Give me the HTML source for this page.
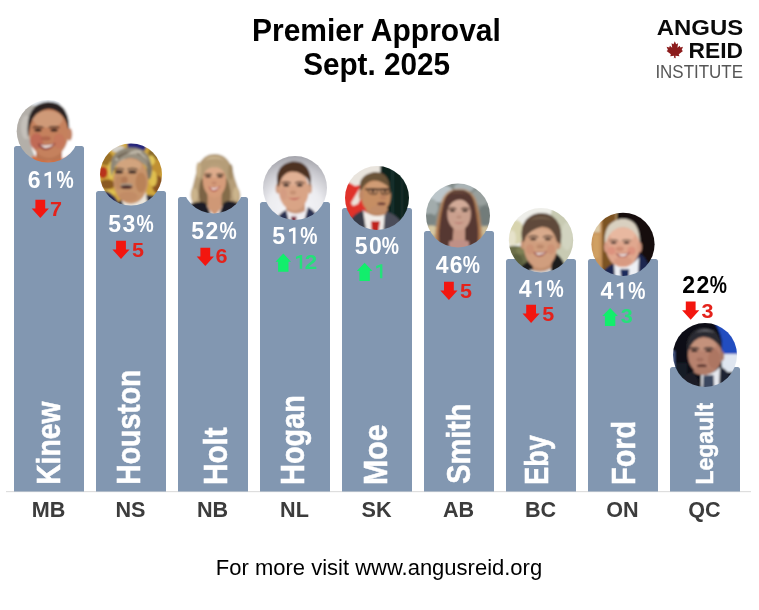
<!DOCTYPE html>
<html><head><meta charset="utf-8"><title>Premier Approval</title>
<style>
html,body{margin:0;padding:0;background:#fff;}
body{width:759px;height:610px;overflow:hidden;font-family:"Liberation Sans",sans-serif;}
svg{display:block;will-change:transform;}
text{font-family:"Liberation Sans",sans-serif;}
.b{font-weight:bold;}
</style></head><body>
<svg width="759" height="610" viewBox="0 0 759 610">
<defs>
<filter id="bl" x="-10%" y="-10%" width="120%" height="120%"><feGaussianBlur stdDeviation="0.9"/></filter>
<filter id="bl2" x="-10%" y="-10%" width="120%" height="120%"><feGaussianBlur stdDeviation="2.2"/></filter>
<clipPath id="c0"><circle cx="0" cy="0" r="31.3"/></clipPath>
<clipPath id="c1"><circle cx="0" cy="0" r="31"/></clipPath>
<clipPath id="c2"><circle cx="0" cy="0" r="31.5"/></clipPath>
<clipPath id="c3"><circle cx="0" cy="0" r="32"/></clipPath>
<clipPath id="c4"><circle cx="0" cy="0" r="32"/></clipPath>
<clipPath id="c5"><circle cx="0" cy="0" r="32"/></clipPath>
<clipPath id="c6"><circle cx="0" cy="0" r="32.2"/></clipPath>
<clipPath id="c7"><circle cx="0" cy="0" r="31.6"/></clipPath>
<clipPath id="c8"><circle cx="0" cy="0" r="32"/></clipPath>
<radialGradient id="gHogan" cx="0" cy="22" r="60" gradientUnits="userSpaceOnUse">
<stop offset="0" stop-color="#f8f8fa"/><stop offset="0.45" stop-color="#ececf0"/><stop offset="0.72" stop-color="#c6c6cc"/><stop offset="0.9" stop-color="#a4a4ab"/><stop offset="1" stop-color="#98989f"/></radialGradient>
</defs>
<rect width="759" height="610" fill="#ffffff"/>
<text class="b" transform="translate(376.4,40.6) scale(0.9615,1)" font-size="31.2" text-anchor="middle" fill="#000">Premier Approval</text>
<text class="b" transform="translate(376.6,75) scale(0.952,1)" font-size="31.2" text-anchor="middle" fill="#000">Sept. 2025</text>
<g id="logo"><text class="b" x="656.8" y="34.5" font-size="22.9" textLength="86.4" lengthAdjust="spacingAndGlyphs" fill="#0a0a0a">ANGUS</text><text class="b" x="688.6" y="57.5" font-size="22.8" textLength="54.4" lengthAdjust="spacingAndGlyphs" fill="#0a0a0a">REID</text><text x="655.4" y="77.6" font-size="18" textLength="87.6" lengthAdjust="spacingAndGlyphs" fill="#565656">INSTITUTE</text><path transform="translate(666.6,41.2) scale(0.164)" fill="#8c1c1c" d="M50 0 L58 18 L70 12 L66 40 L80 28 L84 38 L100 34 L92 54 L100 60 L74 80 L78 92 L54 88 L56 106 L50 100 L44 106 L46 88 L22 92 L26 80 L0 60 L8 54 L0 34 L16 38 L20 28 L34 40 L30 12 L42 18 Z"/></g>
<rect x="6" y="491" width="745" height="1.2" fill="#dedede"/>
<path d="M14,491.5 V148.5 Q14,146 16.5,146 H81.5 Q84,146 84,148.5 V491.5 Z" fill="#8297b1"/>
<g transform="translate(48,131.3)" clip-path="url(#c0)"><g filter="url(#bl)"><rect x="-34" y="-34" width="68" height="68" fill="#ffffff" /><path d="M-34,-34 H-6 Q-16,-20 -19,0 Q-18,22 -6,34 H-34 Z" fill="#b3afa9" /><ellipse cx="-22" cy="-4" rx="5" ry="12" fill="#c4c0ba" /><path d="M-22,-34 H12 V-26 H-22 Z" fill="#e6ebf1" /><path d="M-14,24 Q2,40 24,22 L28,36 H-18 Z" fill="#d8703e" /><path d="M-20,6 Q-23.5,-28 0,-29.5 Q20,-29.5 21.2,-5 L20.5,1 L17,-10 Q2,-25 -15,-13 Z" fill="#2a2422" /><ellipse cx="21.6" cy="3" rx="2.7" ry="6.4" fill="#c28262" /><path d="M-12,18 H14 V30 H-12 Z" fill="#b87452" /><path d="M-16,25 Q2,36 24,23 L28,36 H-18 Z" fill="#d8703e" /><ellipse cx="0.8" cy="2.2" rx="19.7" ry="24.4" fill="#c5815d" /><ellipse cx="0" cy="-12" rx="14.5" ry="8.5" fill="#cf9a78" /><ellipse cx="-11.5" cy="10" rx="6.5" ry="8" fill="#c06a56" /><ellipse cx="11" cy="10" rx="6" ry="7.5" fill="#c6785c" /><path d="M-19.2,-6 Q-16,-26.2 1,-26.8 Q18,-26.2 20.2,-6 Q12,-23.6 1,-22.9 Q-10,-23.6 -19.2,-6 Z" fill="#2a2422" /><ellipse cx="-10" cy="-1.4" rx="3.7" ry="1.5" fill="#241814" /><ellipse cx="6.1" cy="-1.4" rx="3.7" ry="1.5" fill="#241814" /><path d="M-15.4,-4.2 Q-10,-6.6 -4.6,-4.2 L-4.6,-3.0 Q-10,-5.2 -15.4,-3.0 Z" fill="#241814" /><path d="M0.6999999999999993,-4.2 Q6.1,-6.6 11.5,-4.2 L11.5,-3.0 Q6.1,-5.2 0.6999999999999993,-3.0 Z" fill="#241814" /><ellipse cx="-2.2" cy="7.2" rx="5" ry="2.2" fill="#b0664e" /><path d="M-10.399999999999999,12.2 Q-1.2,14.729999999999999 7.999999999999999,11.6 Q2.9399999999999995,19.099999999999998 -3.96,18.41 Q-8.559999999999999,16.799999999999997 -10.399999999999999,12.2 Z" fill="#8a3836" /><path d="M-8.376,13.1 Q-1.2,15.052 6.159999999999999,12.6 Q1.5599999999999998,17.03 -3.96,16.57 Z" fill="#efe4de" /></g></g>
<text x="27.70" y="188.0" font-size="23.0" class="b" fill="#fff">6</text><polygon points="51.00,188.00 48.40,188.00 48.40,174.96 44.50,176.51 44.50,173.82 49.18,171.70 51.00,171.70" fill="#fff"/><text transform="translate(56.46,188.0) scale(0.8412,1)" font-size="23.0" class="b" fill="#fff">%</text>
<polygon points="35.4,199.7 45.2,199.7 45.2,208.5 48.9,208.5 40.3,217.9 31.7,208.5 35.4,208.5" fill="#f3160f"/>
<text class="b" x="50.1" y="215.9" font-size="20.4" textLength="12.0" lengthAdjust="spacingAndGlyphs" fill="#e4221b">7</text>
<text class="b" transform="translate(59.6,484.84) rotate(-90) scale(0.8578,1)" font-size="33" fill="#fff" stroke="#fff" stroke-width="0.55">Kinew</text>
<text class="b" x="48.5" y="517" font-size="21.6" text-anchor="middle" fill="#3c3c3c">MB</text>
<path d="M96,491.5 V193.5 Q96,191 98.5,191 H163.5 Q166,191 166,193.5 V491.5 Z" fill="#8297b1"/>
<g transform="translate(131,174.5)" clip-path="url(#c1)"><g filter="url(#bl)"><rect x="-34" y="-34" width="68" height="68" fill="#d2a83c" /><ellipse cx="-28" cy="-2" rx="4.5" ry="6" fill="#b8321f" /><ellipse cx="-24" cy="10" rx="8" ry="5" fill="#8a5a22" /><ellipse cx="-22" cy="18" rx="7" ry="3" fill="#e0c050" /><ellipse cx="-25" cy="-16" rx="7" ry="7" fill="#9a7028" /><ellipse cx="-20" cy="-4" rx="3" ry="9" fill="#e2c456" /><ellipse cx="25" cy="-8" rx="7" ry="10" fill="#c09030" /><ellipse cx="27" cy="10" rx="6" ry="9" fill="#8a5424" /><ellipse cx="22" cy="4" rx="4" ry="8" fill="#e0c050" /><ellipse cx="24" cy="-21" rx="7" ry="6" fill="#8a6a2a" /><ellipse cx="20" cy="-14" rx="4" ry="5" fill="#e4c858" /><path d="M-4.3,-34 H17 L14,-24 H-3 Z" fill="#28287c" /><path d="M-26,16 Q-14,20 -9,36 H-30 Z" fill="#1c2250" /><ellipse cx="-13" cy="-25.5" rx="7" ry="3.5" fill="#d4d0c8" /><path d="M13,20 L28,22 V36 H6 Z" fill="#2a2c3a" /><path d="M-9,25 Q2,33 15,17 L17,36 H-10 Z" fill="#ece6dc" /><path d="M-10,25 L-5,36 H-20 Z" fill="#2a2c3a" /><path d="M-19.5,2 Q-25,-24 -2,-27 Q20,-28 21,-4 L19.5,4 L17,-8 Q0,-19 -16,-8 Z" fill="#8e8676" /><path d="M-16,-15 Q-4,-27.5 12,-23 Q0,-22.5 -10,-12 Z" fill="#d2ccbe" /><path d="M2,-24 Q12,-24 17,-14 Q10,-20 2,-21 Z" fill="#bcb4a4" /><ellipse cx="18" cy="-4" rx="2.6" ry="9" fill="#7c7464" /><path d="M-14,-18 Q-6,-24 4,-24 Q-6,-21 -13,-14 Z" fill="#6e6252" /><path d="M6,-22 Q14,-18 16,-8 Q12,-16 6,-19 Z" fill="#6e6252" /><ellipse cx="-0.2" cy="6.2" rx="17.3" ry="23" fill="#c8946c" /><ellipse cx="-2" cy="-9" rx="12.5" ry="6.5" fill="#d2a47e" /><ellipse cx="10" cy="8" rx="5.5" ry="10" fill="#b98258" /><ellipse cx="-12" cy="8" rx="4" ry="7" fill="#be8a62" /><path d="M-17.5,-5 Q-15,-19.5 0,-21 Q15,-21 17.2,-5 Q9,-17.5 -1,-16.5 Q-11,-17.5 -17.5,-5 Z" fill="#9a9282" /><ellipse cx="-12" cy="-2.6" rx="4.2" ry="1.7" fill="#2e2220" /><ellipse cx="1.4" cy="-2.6" rx="4.2" ry="1.7" fill="#2e2220" /><path d="M-17.4,-5.6000000000000005 Q-12,-8.0 -6.6,-5.6000000000000005 L-6.6,-4.4 Q-12,-6.6000000000000005 -17.4,-4.4 Z" fill="#4a382e" /><path d="M-4.0,-5.6000000000000005 Q1.4,-8.0 6.800000000000001,-5.6000000000000005 L6.800000000000001,-4.4 Q1.4,-6.6000000000000005 -4.0,-4.4 Z" fill="#4a382e" /><ellipse cx="-6.6" cy="5.5" rx="3.4" ry="3.4" fill="#b27a56" /><ellipse cx="-4.5" cy="10.4" rx="6.5" ry="1.6" fill="#a89684" /><ellipse cx="-4.5" cy="12.6" rx="6" ry="1.9" fill="#4e2c28" /><ellipse cx="-3" cy="22" rx="9.5" ry="5" fill="#c28c66" /></g></g>
<text x="108.31" y="231.7" font-size="23.0" class="b" fill="#fff">5</text><text x="122.46" y="231.7" font-size="23.0" class="b" fill="#fff">3</text><text transform="translate(136.56,231.7) scale(0.8412,1)" font-size="23.0" class="b" fill="#fff">%</text>
<polygon points="116.1,240.7 125.9,240.7 125.9,249.5 129.6,249.5 121.0,258.9 112.4,249.5 116.1,249.5" fill="#f3160f"/>
<text class="b" x="132.1" y="257.0" font-size="20.4" textLength="12.0" lengthAdjust="spacingAndGlyphs" fill="#e4221b">5</text>
<text class="b" transform="translate(140.4,484.85) rotate(-90) scale(0.8621,1)" font-size="33" fill="#fff" stroke="#fff" stroke-width="0.55">Houston</text>
<text class="b" x="130.5" y="517" font-size="21.6" text-anchor="middle" fill="#3c3c3c">NS</text>
<path d="M178,491.5 V199.5 Q178,197 180.5,197 H245.5 Q248,197 248,199.5 V491.5 Z" fill="#8297b1"/>
<g transform="translate(213.6,182)" clip-path="url(#c2)"><g filter="url(#bl)"><rect x="-34" y="-34" width="68" height="68" fill="#ffffff" /><path d="M1,-28 Q-10,-28.5 -15.5,-16 Q-18.5,-6 -21,5 Q-25,13 -21,21 Q-15,27 -6,24 H8 Q18,28 25,21 Q29,13 24,5 Q21,-3 18.5,-14 Q13,-28.5 1,-28 Z" fill="#b59d78" /><path d="M-12,-4 Q-17,8 -13,22 L-4,24 L-8,2 Z" fill="#7c6444" /><path d="M13,-4 Q19,8 16,22 L6,24 L10,2 Z" fill="#846c4a" /><path d="M-9,-22 Q0,-28.5 11,-22 Q2,-25 -9,-22 Z" fill="#d0bc98" /><ellipse cx="-19" cy="13" rx="3.2" ry="7" fill="#cbb48c" /><ellipse cx="22.5" cy="12" rx="3.2" ry="7" fill="#cbb48c" /><ellipse cx="-15" cy="-12" rx="2.5" ry="8" fill="#c8b088" /><ellipse cx="17" cy="-10" rx="2.5" ry="8" fill="#a48c66" /><path d="M-6,10 H8 V26 L1,34 L-6,26 Z" fill="#cf9876" /><path d="M-30,26 Q-16,17 -8,21 L0,38 H-34 Z" fill="#1d1d26" /><path d="M30,24 Q16,16 10,21 L3,38 H34 Z" fill="#1d1d26" /><ellipse cx="0.9" cy="-1.2" rx="11.6" ry="16.6" fill="#d69c7a" /><ellipse cx="0.7" cy="-10" rx="9.2" ry="5.5" fill="#deac8c" /><path d="M-10.5,-7 Q-7,-18.5 1.5,-18.5 Q10,-18.5 12.4,-7 Q7,-15.6 1,-14.6 Q-6,-15.6 -10.5,-7 Z" fill="#b9a07c" /><ellipse cx="-5.4" cy="-5.6" rx="2.8" ry="1.2" fill="#3e2e28" /><ellipse cx="6.4" cy="-5.6" rx="2.8" ry="1.2" fill="#3e2e28" /><path d="M-9.4,-7.700000000000001 Q-5.4,-10.100000000000001 -1.4000000000000004,-7.700000000000001 L-1.4000000000000004,-6.500000000000001 Q-5.4,-8.700000000000001 -9.4,-6.500000000000001 Z" fill="#6e563e" /><path d="M2.4000000000000004,-7.700000000000001 Q6.4,-10.100000000000001 10.4,-7.700000000000001 L10.4,-6.500000000000001 Q6.4,-8.700000000000001 2.4000000000000004,-6.500000000000001 Z" fill="#6e563e" /><ellipse cx="0.5" cy="1" rx="2.6" ry="1.5" fill="#c2866a" /><path d="M-5,4.4 Q1,6.49 7,3.8000000000000003 Q3.7,10.1 -0.7999999999999998,9.530000000000001 Q-3.8000000000000007,8.2 -5,4.4 Z" fill="#b05048" /><path d="M-3.6799999999999997,5.300000000000001 Q1,6.756 5.800000000000001,4.800000000000001 Q2.8,8.39 -0.7999999999999998,8.01 Z" fill="#f3e6e0" /></g></g>
<text x="191.31" y="238.9" font-size="23.0" class="b" fill="#fff">5</text><text x="205.46" y="238.9" font-size="23.0" class="b" fill="#fff">2</text><text transform="translate(219.56,238.9) scale(0.8412,1)" font-size="23.0" class="b" fill="#fff">%</text>
<polygon points="200.4,247.7 210.2,247.7 210.2,256.5 213.9,256.5 205.3,265.9 196.7,256.5 200.4,256.5" fill="#f3160f"/>
<text class="b" x="215.4" y="263.4" font-size="20.4" textLength="12.0" lengthAdjust="spacingAndGlyphs" fill="#e4221b">6</text>
<text class="b" transform="translate(226.6,484.93) rotate(-90) scale(0.8989,1)" font-size="33" fill="#fff" stroke="#fff" stroke-width="0.55">Holt</text>
<text class="b" x="212.5" y="517" font-size="21.6" text-anchor="middle" fill="#3c3c3c">NB</text>
<path d="M260,491.5 V204.5 Q260,202 262.5,202 H327.5 Q330,202 330,204.5 V491.5 Z" fill="#8297b1"/>
<g transform="translate(295,188)" clip-path="url(#c3)"><g filter="url(#bl)"><rect x="-34" y="-34" width="68" height="68" fill="url(#gHogan)" /><path d="M-20,36 Q-18,26 -9,22 L-2,36 Z" fill="#2b3152" /><path d="M24,36 Q23,24 13,19 L4,36 Z" fill="#2b3152" /><path d="M-9,21 Q0,31 13,19 L8,38 H-5 Z" fill="#f0eef2" /><path d="M-4,28.5 L1.5,28.5 L1,36 H-4 Z" fill="#7a2a3c" /><path d="M-9,14 H10 V23 Q0,29 -9,22 Z" fill="#c9977a" /><ellipse cx="-17" cy="0.5" rx="2.4" ry="5" fill="#cf9c80" /><ellipse cx="14.8" cy="0.5" rx="2.2" ry="5" fill="#d1a084" /><path d="M-17.5,-2 Q-21,-23 -3,-26.5 Q14,-27.5 16,-9 L15.2,-1 L13,-9 Q4,-18 -13,-12 L-15.5,-1 Z" fill="#4e3222" /><ellipse cx="-1.2" cy="2.2" rx="15" ry="20.2" fill="#d9a486" /><ellipse cx="-1" cy="-9" rx="11.5" ry="6.5" fill="#e0b094" /><path d="M-16,-5 Q-16,-20 -4,-22 Q10,-23 14.5,-7 Q6,-17.5 -4,-16.5 Q-11.5,-15.5 -16,-5 Z" fill="#4e3222" /><ellipse cx="-8.8" cy="-3" rx="3.0" ry="1.5" fill="#2e2220" /><ellipse cx="4.7" cy="-3" rx="3.0" ry="1.5" fill="#2e2220" /><path d="M-13.600000000000001,-5.5 Q-8.8,-7.8999999999999995 -4.000000000000001,-5.5 L-4.000000000000001,-4.3 Q-8.8,-6.5 -13.600000000000001,-4.3 Z" fill="#4a3024" /><path d="M-0.09999999999999964,-5.5 Q4.7,-7.8999999999999995 9.5,-5.5 L9.5,-4.3 Q4.7,-6.5 -0.09999999999999964,-4.3 Z" fill="#4a3024" /><ellipse cx="-2" cy="4.5" rx="3" ry="2" fill="#c48f72" /><path d="M-7.5,9.6 Q-2,11.8 5.5,9.2 Q-1,14 -7.5,9.6 Z" fill="#b8484a" /><ellipse cx="-11.5" cy="6" rx="3.5" ry="6" fill="#d49c82" /></g></g>
<text x="272.31" y="243.8" font-size="23.0" class="b" fill="#fff">5</text><polygon points="295.50,243.80 292.90,243.80 292.90,230.76 289.00,232.31 289.00,229.62 293.68,227.50 295.50,227.50" fill="#fff"/><text transform="translate(300.26,243.8) scale(0.8412,1)" font-size="23.0" class="b" fill="#fff">%</text>
<polygon points="283.3,253.5 291.1,261.7 288.5,261.7 288.5,271.7 278.1,271.7 278.1,261.7 275.5,261.7" fill="#12ee6c"/>
<polygon points="302.20,268.80 299.72,268.80 299.72,257.68 296.00,259.00 296.00,256.71 300.46,254.90 302.20,254.90" fill="#25e07a"/><text class="b" x="304.8" y="268.8" font-size="20.4" textLength="12.4" lengthAdjust="spacingAndGlyphs" fill="#25e07a">2</text>
<text class="b" transform="translate(304.4,484.88) rotate(-90) scale(0.8751,1)" font-size="33" fill="#fff" stroke="#fff" stroke-width="0.55">Hogan</text>
<text class="b" x="294.5" y="517" font-size="21.6" text-anchor="middle" fill="#3c3c3c">NL</text>
<path d="M342,491.5 V210.5 Q342,208 344.5,208 H409.5 Q412,208 412,210.5 V491.5 Z" fill="#8297b1"/>
<g transform="translate(377,198)" clip-path="url(#c4)"><g filter="url(#bl)"><rect x="-34" y="-34" width="68" height="68" fill="#efebe5" /><path d="M-34,-17 L-27,-15 L-22,-12 L-12,-14 L-10,18 L-34,22 Z" fill="#e0322a" /><path d="M-26,5 L-16,-12 L-12,-13 L-14,-4 L-19,6 L-24,8 Z" fill="#ece2da" /><path d="M-34,-34 H4 V-12 L-12,-15 L-22,-13 L-28,-16 L-34,-18 Z" fill="#e9e4dd" /><path d="M3.4,-34 H34 V24 H12 L3.4,0 Z" fill="#0d211d" /><rect x="14" y="-34" width="3" height="56" fill="#16332d" /><rect x="24" y="-34" width="2" height="56" fill="#13302a" /><path d="M-32,36 Q-28,16 -13,12 L-4,38 Z" fill="#383a46" /><path d="M28,36 Q26,18 8,13 L0,38 Z" fill="#4c4e5a" /><path d="M-14,12 Q-4,22 8,12 L6,38 H-10 Z" fill="#f1ede9" /><path d="M-6,23 L3,23 L1,38 H-5 Z" fill="#c0221f" /><path d="M-11,8 H9 V16 Q-2,21 -11,14 Z" fill="#bb8662" /><path d="M-16.5,-4 Q-21,-22 -4,-25.8 Q11,-27 12.5,-12 L11,-6 Q0,-18.5 -13,-12 Z" fill="#6a5238" /><ellipse cx="-1" cy="-2" rx="14.8" ry="17.5" fill="#c68e64" /><ellipse cx="0" cy="-11" rx="11" ry="6" fill="#d09c74" /><path d="M-15.5,-8 Q-13,-22.5 -2,-23.5 Q10,-23.5 12.5,-10 Q4,-18.5 -4,-17.5 Q-11,-16.5 -15.5,-8 Z" fill="#6a5238" /><ellipse cx="-15.8" cy="-3" rx="2.4" ry="5" fill="#c08866" /><path d="M-12,-9.6 H12 V-7.8 H-12 Z" fill="#4a3428" /><ellipse cx="-4" cy="-6.6" rx="4.6" ry="2.8" fill="none" stroke="#4a3428" stroke-width="1.1"/><ellipse cx="8" cy="-6.6" rx="4.4" ry="2.8" fill="none" stroke="#4a3428" stroke-width="1.1"/><ellipse cx="-4" cy="-6.6" rx="2" ry="1" fill="#3a2a24" /><ellipse cx="8" cy="-6.6" rx="2" ry="1" fill="#3a2a24" /><ellipse cx="6" cy="-0.5" rx="3" ry="2.4" fill="#bb8260" /><ellipse cx="4.5" cy="5.8" rx="4.2" ry="1.5" fill="#6a3a34" /><ellipse cx="2" cy="11.5" rx="9" ry="4" fill="#c18c68" /></g></g>
<text x="354.81" y="254.0" font-size="23.0" class="b" fill="#fff">5</text><text x="368.96" y="254.0" font-size="23.0" class="b" fill="#fff">0</text><text transform="translate(381.76,254.0) scale(0.8412,1)" font-size="23.0" class="b" fill="#fff">%</text>
<polygon points="364.6,262.7 372.4,270.9 369.8,270.9 369.8,280.9 359.4,280.9 359.4,270.9 356.8,270.9" fill="#12ee6c"/>
<polygon points="382.40,278.20 379.92,278.20 379.92,267.08 376.20,268.40 376.20,266.11 380.66,264.30 382.40,264.30" fill="#25e07a"/>
<text class="b" transform="translate(387.4,484.96) rotate(-90) scale(0.9159,1)" font-size="33" fill="#fff" stroke="#fff" stroke-width="0.55">Moe</text>
<text class="b" x="376.5" y="517" font-size="21.6" text-anchor="middle" fill="#3c3c3c">SK</text>
<path d="M424,491.5 V233.5 Q424,231 426.5,231 H491.5 Q494,231 494,233.5 V491.5 Z" fill="#8297b1"/>
<g transform="translate(458,215.5)" clip-path="url(#c5)"><g filter="url(#bl)"><rect x="-34" y="-34" width="68" height="68" fill="#858e8c" /><ellipse cx="-18" cy="-22" rx="14" ry="9" fill="#bcc6ca" /><ellipse cx="-27" cy="-8" rx="7" ry="9" fill="#a2acac" /><ellipse cx="6" cy="-28" rx="10" ry="5" fill="#aab4b6" /><ellipse cx="22" cy="-18" rx="9" ry="8" fill="#98a09e" /><ellipse cx="27" cy="0" rx="7" ry="10" fill="#727c7a" /><ellipse cx="-28" cy="4" rx="6" ry="6" fill="#7c8684" /><path d="M-34,11 H34 V36 H-34 Z" fill="#c2b28e" /><ellipse cx="-27" cy="15" rx="7" ry="5" fill="#d6c8a2" /><ellipse cx="28" cy="15" rx="7" ry="4" fill="#cbbc98" /><path d="M1,-25.5 Q-12,-26 -16,-12 Q-19,-2 -20.5,8 Q-23,20 -21,36 H22 Q24,20 22,8 Q21,-2 18,-12 Q14,-26 1,-25.5 Z" fill="#a06c48" stroke="#b88458" stroke-width="3" stroke-opacity="0.55"/><path d="M1,-25.5 Q-11,-26 -14.5,-12 Q-17,-2 -18,8 Q-20,20 -18,36 H19 Q21,20 19.5,8 Q18.5,-2 16.5,-12 Q13,-26 1,-25.5 Z" fill="#573930" /><path d="M-9,-21 Q0,-27 10,-21 Q0,-23.5 -9,-21 Z" fill="#6d4c3e" /><path d="M-4.5,12 H7 V38 H-6 Z" fill="#c49684" /><path d="M-9,26 Q1,22 11,26 V38 H-9 Z" fill="#c09086" /><ellipse cx="1.1" cy="-1.5" rx="11.8" ry="16.3" fill="#caa08e" /><ellipse cx="1" cy="-10" rx="9.8" ry="6" fill="#d2aa98" /><path d="M-11,-6 Q-10,-19 0.5,-19.4 Q11.5,-19.4 13.2,-6 Q8.5,-16 2,-16 Q-6,-16 -11,-6 Z" fill="#573930" /><ellipse cx="-5.6" cy="-4.8" rx="2.8" ry="1.2" fill="#32241f" /><ellipse cx="7.0" cy="-4.8" rx="2.8" ry="1.2" fill="#32241f" /><path d="M-9.8,-7.0 Q-5.6,-9.4 -1.3999999999999995,-7.0 L-1.3999999999999995,-5.8 Q-5.6,-8.0 -9.8,-5.8 Z" fill="#4e362c" /><path d="M2.8,-7.0 Q7.0,-9.4 11.2,-7.0 L11.2,-5.8 Q7.0,-8.0 2.8,-5.8 Z" fill="#4e362c" /><ellipse cx="1" cy="1.5" rx="2.8" ry="1.6" fill="#b98c7a" /><path d="M-4.5,6.2 Q1,8.4 6.5,5.9 Q1,10.2 -4.5,6.2 Z" fill="#b06462" /></g></g>
<text x="435.65" y="273.0" font-size="23.0" class="b" fill="#fff">4</text><text x="449.80" y="273.0" font-size="23.0" class="b" fill="#fff">6</text><text transform="translate(462.86,273.0) scale(0.8412,1)" font-size="23.0" class="b" fill="#fff">%</text>
<polygon points="444.0,281.7 453.8,281.7 453.8,290.5 457.5,290.5 448.9,299.9 440.3,290.5 444.0,290.5" fill="#f3160f"/>
<text class="b" x="460.1" y="297.8" font-size="20.4" textLength="12.0" lengthAdjust="spacingAndGlyphs" fill="#e4221b">5</text>
<text class="b" transform="translate(470.0,483.79) rotate(-90) scale(0.8753,1)" font-size="33" fill="#fff" stroke="#fff" stroke-width="0.55">Smith</text>
<text class="b" x="458.5" y="517" font-size="21.6" text-anchor="middle" fill="#3c3c3c">AB</text>
<path d="M506,491.5 V261.5 Q506,259 508.5,259 H573.5 Q576,259 576,261.5 V491.5 Z" fill="#8297b1"/>
<g transform="translate(541,240.2)" clip-path="url(#c6)"><g filter="url(#bl)"><rect x="-34" y="-34" width="68" height="68" fill="#eeeee9" /><path d="M12,-34 H34 V36 H4 V-6 Z" fill="#c8cab2" /><ellipse cx="26" cy="-4" rx="6" ry="14" fill="#d2d4c0" /><ellipse cx="-25" cy="-8" rx="8" ry="12" fill="#d8d4ae" /><ellipse cx="-29" cy="-2" rx="4" ry="8" fill="#e6e2ca" /><path d="M-34,7 Q-22,3 -14,11 L-8,36 H-34 Z" fill="#6c6e48" /><ellipse cx="-25" cy="22" rx="7" ry="8" fill="#5a5e3e" /><ellipse cx="-20" cy="10" rx="5" ry="4" fill="#7e8054" /><path d="M-24,36 Q-20,22 -9,19 L-4,38 Z" fill="#1f1f1d" /><path d="M26,36 Q24,16 12,12 L5,38 Z" fill="#1f1f1d" /><path d="M-9,20 Q0,32 11,20 L9,38 H-7 Z" fill="#c08e6e" /><path d="M-11,29 Q0,34 10,28 V38 H-11 Z" fill="#d6d6d6" /><ellipse cx="-17.8" cy="4" rx="2.5" ry="5" fill="#c79476" /><ellipse cx="17.2" cy="4" rx="2.5" ry="5" fill="#c79476" /><path d="M-18.6,2 Q-23,-19 -7,-26 Q11,-31 18.5,-15 Q21.5,-6 19.4,4 Q10,-4 0,-5 Q-10,-4 -18.6,2 Z" fill="#5f4a3a" /><ellipse cx="-0.5" cy="6.5" rx="16.6" ry="21.5" fill="#d09e7e" /><ellipse cx="-1" cy="-5" rx="12.5" ry="6.5" fill="#d8aa8c" /><path d="M-17,-2 Q-17.5,-17 -7,-21.5 Q9,-26 17.6,-4 Q11,-13 1,-13.5 Q-9,-11.5 -17,-2 Z" fill="#5f4a3a" /><path d="M-12,-20 Q0,-27 12,-20 Q0,-23 -12,-20 Z" fill="#7a6450" /><ellipse cx="-7.7" cy="-1.2" rx="3.2" ry="1.3" fill="#30241f" /><ellipse cx="6.8" cy="-1.2" rx="3.2" ry="1.3" fill="#30241f" /><path d="M-12.7,-3.6999999999999997 Q-7.7,-6.1 -2.7,-3.6999999999999997 L-2.7,-2.5 Q-7.7,-4.7 -12.7,-2.5 Z" fill="#4e3a2e" /><path d="M1.7999999999999998,-3.6999999999999997 Q6.8,-6.1 11.8,-3.6999999999999997 L11.8,-2.5 Q6.8,-4.7 1.7999999999999998,-2.5 Z" fill="#4e3a2e" /><ellipse cx="-0.8" cy="6.4" rx="3.6" ry="2" fill="#bc886a" /><path d="M-8.200000000000001,11.4 Q-0.8,13.38 6.6000000000000005,10.8 Q2.5300000000000002,16.8 -3.0200000000000005,16.26 Q-6.720000000000001,15.0 -8.200000000000001,11.4 Z" fill="#984844" /><path d="M-6.572,12.3 Q-0.8,13.632000000000001 5.120000000000001,11.8 Q1.4200000000000002,15.18 -3.0200000000000005,14.82 Z" fill="#f0e4de" /><ellipse cx="-11" cy="9" rx="4" ry="5" fill="#cc9274" /><ellipse cx="10" cy="9" rx="4" ry="5" fill="#cc9274" /></g></g>
<text x="518.65" y="297.0" font-size="23.0" class="b" fill="#fff">4</text><polygon points="541.50,297.00 538.90,297.00 538.90,283.96 535.00,285.51 535.00,282.82 539.68,280.70 541.50,280.70" fill="#fff"/><text transform="translate(546.46,297.0) scale(0.8412,1)" font-size="23.0" class="b" fill="#fff">%</text>
<polygon points="526.2,304.7 536.0,304.7 536.0,313.5 539.7,313.5 531.1,322.9 522.5,313.5 526.2,313.5" fill="#f3160f"/>
<text class="b" x="542.3000000000001" y="320.9" font-size="20.4" textLength="12.0" lengthAdjust="spacingAndGlyphs" fill="#e4221b">5</text>
<text class="b" transform="translate(548.4,484.75) rotate(-90) scale(0.8155,1)" font-size="33" fill="#fff" stroke="#fff" stroke-width="0.55">Eby</text>
<text class="b" x="540.5" y="517" font-size="21.6" text-anchor="middle" fill="#3c3c3c">BC</text>
<path d="M588,491.5 V261.5 Q588,259 590.5,259 H655.5 Q658,259 658,261.5 V491.5 Z" fill="#8297b1"/>
<g transform="translate(623,244.3)" clip-path="url(#c7)"><g filter="url(#bl)"><rect x="-34" y="-34" width="68" height="68" fill="#120a08" /><rect x="-34" y="-34" width="13.2" height="68" fill="#c6935a" /><rect x="-34" y="-34" width="11" height="22" fill="#dccaa8" /><rect x="-30" y="-10" width="6" height="24" fill="#d0a064" /><rect x="-21" y="-34" width="14.4" height="68" fill="#7c5222" /><rect x="-7.4" y="-34" width="1.4" height="22" fill="#b89868" /><path d="M-24,36 Q-21,24 -9,19 L-2,38 Z" fill="#1b2750" /><path d="M29,36 Q26,12 15,9 L6,38 Z" fill="#1b2750" /><path d="M-9,18 Q2,29 16,13 L15,38 H-8 Z" fill="#eef0f4" /><path d="M-2.7,25 L6.2,25 L5.6,38 H-1.6 Z" fill="#1b2a5c" /><path d="M-17.8,4 Q-21.5,-22 -2,-25.5 Q15,-26.5 16.6,-6 L17.2,4 L13,-6 Q0,-18 -13,-6 Z" fill="#d9d0c0" /><ellipse cx="-0.2" cy="2.4" rx="17" ry="20.6" fill="#e0a78e" /><ellipse cx="-0.5" cy="-9.5" rx="12.5" ry="7" fill="#e8b8a0" /><path d="M-16.8,-4 Q-16,-21.5 -1,-22.3 Q14,-22.3 16.4,-4 Q9.5,-17.6 0,-17 Q-10,-17.6 -16.8,-4 Z" fill="#d9d0c0" /><ellipse cx="16.6" cy="3" rx="2.2" ry="5" fill="#d89c84" /><ellipse cx="-16.8" cy="3" rx="2.2" ry="5" fill="#d89c84" /><ellipse cx="-9.4" cy="-1.6" rx="3.0" ry="1.2" fill="#43332f" /><ellipse cx="3.5" cy="-1.6" rx="3.0" ry="1.2" fill="#43332f" /><path d="M-14.2,-3.9999999999999996 Q-9.4,-6.3999999999999995 -4.6000000000000005,-3.9999999999999996 L-4.6000000000000005,-2.8 Q-9.4,-5.0 -14.2,-2.8 Z" fill="#8e7260" /><path d="M-1.2999999999999998,-3.9999999999999996 Q3.5,-6.3999999999999995 8.3,-3.9999999999999996 L8.3,-2.8 Q3.5,-5.0 -1.2999999999999998,-2.8 Z" fill="#8e7260" /><ellipse cx="-3.2" cy="4.6" rx="3.8" ry="2.3" fill="#cd8c74" /><ellipse cx="-11.5" cy="6.5" rx="4" ry="4" fill="#dc927e" /><ellipse cx="8.5" cy="6.5" rx="4" ry="4" fill="#dc927e" /><path d="M-7.4,8.6 Q0,10.58 7.4,8.0 Q3.33,14.0 -2.22,13.46 Q-5.920000000000001,12.2 -7.4,8.6 Z" fill="#9c4c48" /><path d="M-5.772,9.5 Q0,10.832 5.920000000000001,9.0 Q2.22,12.379999999999999 -2.22,12.02 Z" fill="#f5edea" /><ellipse cx="0" cy="17" rx="9" ry="4.5" fill="#d89a82" /></g></g>
<text x="600.45" y="298.8" font-size="23.0" class="b" fill="#fff">4</text><polygon points="623.30,298.80 620.70,298.80 620.70,285.76 616.80,287.31 616.80,284.62 621.48,282.50 623.30,282.50" fill="#fff"/><text transform="translate(628.26,298.8) scale(0.8412,1)" font-size="23.0" class="b" fill="#fff">%</text>
<polygon points="610.1,307.9 617.9,316.1 615.3,316.1 615.3,326.1 604.9,326.1 604.9,316.1 602.3,316.1" fill="#12ee6c"/>
<text class="b" x="620.7" y="323.4" font-size="20.4" textLength="12.0" lengthAdjust="spacingAndGlyphs" fill="#25e07a">3</text>
<text class="b" transform="translate(635.1,484.88) rotate(-90) scale(0.8743,1)" font-size="33" fill="#fff" stroke="#fff" stroke-width="0.55">Ford</text>
<text class="b" x="622.5" y="517" font-size="21.6" text-anchor="middle" fill="#3c3c3c">ON</text>
<path d="M670,491.5 V369.5 Q670,367 672.5,367 H737.5 Q740,367 740,369.5 V491.5 Z" fill="#8297b1"/>
<g transform="translate(705,355)" clip-path="url(#c8)"><g filter="url(#bl)"><rect x="-34" y="-34" width="68" height="68" fill="#0a0b12" /><path d="M9,-34 H34 V0 H16 Q20,-16 9,-34 Z" fill="#214dc0" /><path d="M16,-1 H34 V17 H17 Z" fill="#dfe6f0" /><path d="M-34,8 H-18 V30 H-34 Z" fill="#161a28" /><rect x="-33" y="-4" width="3" height="22" fill="#4a5a88" /><path d="M-28,36 Q-24,20 -11,16 L-2,38 Z" fill="#1c1e28" /><path d="M30,36 Q27,16 14,11 L5,38 Z" fill="#1f2232" /><path d="M-6,15 Q3,24 15,12 L14,38 H-5 Z" fill="#e6e8ee" /><path d="M-1.6,20.6 L8.5,20 L9.5,38 H-2.6 Z" fill="#3a465e" /><rect x="-6" y="18" width="2.2" height="20" fill="#14151b" /><path d="M-17.6,0 Q-21,-22 -4,-27 Q14,-28.6 17,-8 L16.6,1 L13.6,-8 Q2,-19.5 -14,-11 Z" fill="#2c2c32" /><path d="M-10,-22.5 Q0,-28 11,-22.5 Q0,-25.5 -10,-22.5 Z" fill="#7a7a82" /><ellipse cx="0" cy="0" rx="17" ry="19.6" fill="#b8826e" /><ellipse cx="-1" cy="-10.5" rx="12.5" ry="6.5" fill="#c4927c" /><ellipse cx="9" cy="4" rx="6" ry="10" fill="#ad7662" /><path d="M-16.8,-5 Q-16,-22 -2,-23.6 Q12,-23.6 16.6,-6 Q8,-18.6 -2,-18 Q-10.5,-17.5 -16.8,-5 Z" fill="#2c2c32" /><ellipse cx="17" cy="1" rx="2.2" ry="4.8" fill="#a87866" /><ellipse cx="-10.6" cy="-4.2" rx="3.2" ry="1.3" fill="#221a1c" /><ellipse cx="3.6" cy="-4.2" rx="3.2" ry="1.3" fill="#221a1c" /><path d="M-15.6,-6.700000000000001 Q-10.6,-9.100000000000001 -5.6,-6.700000000000001 L-5.6,-5.500000000000001 Q-10.6,-7.700000000000001 -15.6,-5.500000000000001 Z" fill="#2c2426" /><path d="M-1.4,-6.700000000000001 Q3.6,-9.100000000000001 8.6,-6.700000000000001 L8.6,-5.500000000000001 Q3.6,-7.700000000000001 -1.4,-5.500000000000001 Z" fill="#2c2426" /><ellipse cx="-5" cy="4.6" rx="3.6" ry="2.2" fill="#a4705e" /><ellipse cx="-3.2" cy="10.8" rx="5" ry="1.5" fill="#552e2c" /><ellipse cx="-2" cy="16" rx="9.5" ry="4" fill="#b07c68" /></g></g>
<text x="682.25" y="292.5" font-size="23.0" class="b" fill="#000">2</text><text x="696.40" y="292.5" font-size="23.0" class="b" fill="#000">2</text><text transform="translate(709.76,292.5) scale(0.8412,1)" font-size="23.0" class="b" fill="#000">%</text>
<polygon points="685.8,301.5 695.6,301.5 695.6,310.3 699.3,310.3 690.7,319.7 682.1,310.3 685.8,310.3" fill="#f3160f"/>
<text class="b" x="701.6" y="317.6" font-size="20.4" textLength="12.0" lengthAdjust="spacingAndGlyphs" fill="#e4221b">3</text>
<text class="b" transform="translate(713.3,484.49) rotate(-90) scale(0.9258,1)" font-size="24.8" fill="#fff" stroke="#fff" stroke-width="0.55">Legault</text>
<text class="b" x="704.5" y="517" font-size="21.6" text-anchor="middle" fill="#3c3c3c">QC</text>
<text transform="translate(379,574.9) scale(0.965,1)" font-size="22.8" text-anchor="middle" fill="#000">For more visit www.angusreid.org</text>
</svg>
</body></html>
